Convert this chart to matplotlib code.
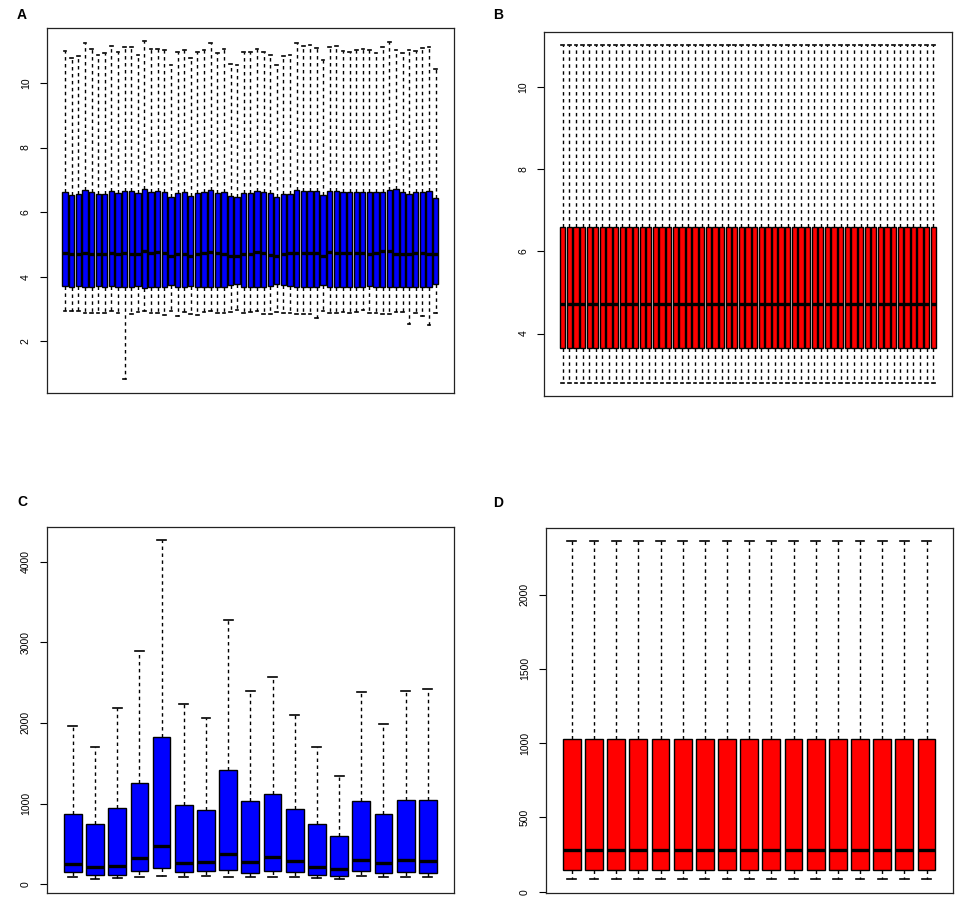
import matplotlib.pyplot as plt

plt.rcParams["font.family"] = ["Liberation Sans", "DejaVu Sans"]

# panel A: 57 arrays, raw expression
a_whishi = [11.0, 10.78, 10.83, 11.23, 11.05, 10.86, 10.92, 11.13, 10.97, 11.12,
            11.1, 10.85, 11.29, 11.05, 11.06, 11.03, 10.55, 10.95, 11.03, 10.78,
            10.95, 11.03, 11.23, 10.93, 11.05, 10.6, 10.55, 10.95, 10.95, 11.06,
            10.97, 10.85, 10.55, 10.83, 10.86, 11.23, 11.13, 11.17, 11.07, 10.72,
            11.1, 11.13, 11.0, 10.97, 11.02, 11.04, 11.02, 10.92, 11.1, 11.25,
            11.02, 10.91, 11.01, 10.98, 11.07, 11.1, 10.44]
a_q3 = [6.62, 6.54, 6.56, 6.67, 6.62, 6.56, 6.56, 6.65, 6.60, 6.65,
        6.65, 6.59, 6.71, 6.63, 6.64, 6.62, 6.48, 6.59, 6.62, 6.50,
        6.59, 6.63, 6.68, 6.59, 6.63, 6.49, 6.48, 6.59, 6.59, 6.65,
        6.61, 6.58, 6.48, 6.57, 6.57, 6.68, 6.66, 6.66, 6.64, 6.52,
        6.64, 6.65, 6.63, 6.62, 6.62, 6.62, 6.62, 6.61, 6.61, 6.69,
        6.71, 6.62, 6.57, 6.61, 6.62, 6.64, 6.43]
a_med = [4.75, 4.69, 4.69, 4.73, 4.71, 4.69, 4.71, 4.73, 4.69, 4.73,
         4.71, 4.69, 4.81, 4.73, 4.76, 4.73, 4.65, 4.71, 4.69, 4.65,
         4.71, 4.73, 4.76, 4.75, 4.71, 4.64, 4.64, 4.71, 4.71, 4.76,
         4.73, 4.67, 4.65, 4.69, 4.73, 4.75, 4.73, 4.75, 4.75, 4.64,
         4.78, 4.73, 4.73, 4.75, 4.75, 4.75, 4.69, 4.73, 4.81, 4.81,
         4.71, 4.69, 4.71, 4.75, 4.73, 4.71, 4.69]
a_q1 = [3.71, 3.69, 3.71, 3.67, 3.69, 3.71, 3.67, 3.71, 3.67, 3.67,
        3.67, 3.71, 3.65, 3.67, 3.67, 3.69, 3.74, 3.69, 3.67, 3.71,
        3.69, 3.69, 3.67, 3.69, 3.67, 3.74, 3.76, 3.67, 3.67, 3.69,
        3.69, 3.71, 3.76, 3.73, 3.71, 3.67, 3.67, 3.69, 3.69, 3.73,
        3.67, 3.67, 3.67, 3.69, 3.67, 3.69, 3.71, 3.69, 3.67, 3.67,
        3.69, 3.69, 3.67, 3.69, 3.67, 3.69, 3.76]
a_whislo = [2.93, 2.93, 2.94, 2.88, 2.88, 2.89, 2.88, 2.93, 2.88, 0.83,
            2.84, 2.91, 2.94, 2.89, 2.89, 2.81, 2.93, 2.78, 2.91, 2.86,
            2.81, 2.91, 2.93, 2.88, 2.89, 2.91, 2.97, 2.89, 2.91, 2.94,
            2.84, 2.86, 2.91, 2.89, 2.89, 2.84, 2.86, 2.84, 2.71, 2.93,
            2.89, 2.89, 2.91, 2.89, 2.91, 2.97, 2.89, 2.89, 2.86, 2.84,
            2.91, 2.91, 2.53, 2.88, 2.78, 2.50, 2.88]

# panel B: 57 arrays after normalisation, all identical
b_count = 57
b_whishi, b_q3, b_med, b_q1, b_whislo = 11.01, 6.58, 4.71, 3.66, 2.81

# panel C: 17 samples, raw counts
c_whishi = [1958, 1701, 2183, 2892, 4266, 2241, 2066, 3278, 2398, 2564,
            2104, 1701, 1344, 2378, 1983, 2398, 2427]
c_q3 = [871, 747, 946, 1253, 1826, 988, 921, 1411, 1037, 1120,
        934, 747, 598, 1037, 871, 1046, 1050]
c_med = [249, 207, 228, 324, 473, 266, 278, 373, 278, 332,
         282, 216, 183, 299, 261, 299, 282]
c_q1 = [145, 112, 116, 166, 199, 154, 158, 174, 137, 158,
        154, 116, 104, 158, 137, 145, 133]
c_whislo = [91, 62, 75, 91, 104, 91, 104, 91, 83, 83,
            83, 71, 62, 100, 83, 83, 83]

# panel D: 17 samples after normalisation, all identical
d_count = 17
d_whishi, d_q3, d_med, d_q1, d_whislo = 2359, 1029, 280, 146, 83


def make_stats(whislo, q1, med, q3, whishi):
    return [dict(whislo=lo, q1=a, med=m, q3=b, whishi=hi)
            for lo, a, m, b, hi in zip(whislo, q1, med, q3, whishi)]


def draw_panel(ax, stats, color, yticks):
    n = len(stats)
    ax.bxp(stats, positions=range(1, n + 1), widths=0.8, showfliers=False,
           patch_artist=True,
           boxprops=dict(facecolor=color, edgecolor="black", linewidth=1.0),
           medianprops=dict(color="black", linewidth=2.4, solid_capstyle="butt"),
           whiskerprops=dict(color="black", linewidth=1.0, linestyle=(0, (2.5, 2.5))),
           capprops=dict(color="black", linewidth=1.2),
           capwidths=0.4)
    pad = 0.04 * n
    ax.set_xlim(0.5 - pad, n + 0.5 + pad)
    lo = min(s["whislo"] for s in stats)
    hi = max(s["whishi"] for s in stats)
    ext = 0.04 * (hi - lo)
    ax.set_ylim(lo - ext, hi + ext)
    ax.set_xticks([])
    ax.set_yticks(yticks)
    ax.set_yticklabels([str(t) for t in yticks], rotation=90, va="center")
    ax.tick_params(axis="y", length=5, width=0.8, pad=6.5, labelsize=7.5,
                   direction="out")
    for sp in ax.spines.values():
        sp.set_linewidth(0.9)
        sp.set_color("#222222")


fig = plt.figure(figsize=(9.57, 8.99), dpi=100)

ax_a = fig.add_axes([0.0488, 0.5632, 0.4256, 0.4060])
ax_b = fig.add_axes([0.5688, 0.5595, 0.4257, 0.4052])
ax_c = fig.add_axes([0.0488, 0.0070, 0.4256, 0.4071])
ax_d = fig.add_axes([0.5702, 0.0067, 0.4253, 0.4063])

draw_panel(ax_a, make_stats(a_whislo, a_q1, a_med, a_q3, a_whishi),
           "#0000FF", [2, 4, 6, 8, 10])
draw_panel(ax_b, make_stats([b_whislo] * b_count, [b_q1] * b_count,
                            [b_med] * b_count, [b_q3] * b_count,
                            [b_whishi] * b_count),
           "#FF0000", [4, 6, 8, 10])
draw_panel(ax_c, make_stats(c_whislo, c_q1, c_med, c_q3, c_whishi),
           "#0000FF", [0, 1000, 2000, 3000, 4000])
draw_panel(ax_d, make_stats([d_whislo] * d_count, [d_q1] * d_count,
                            [d_med] * d_count, [d_q3] * d_count,
                            [d_whishi] * d_count),
           "#FF0000", [0, 500, 1000, 1500, 2000])

W, H = 957, 899
for label, x, y in [("A", 16.7, 19.3), ("B", 492.7, 19.3),
                    ("C", 17.0, 506.0), ("D", 492.7, 506.7)]:
    fig.text(x / W, 1 - y / H, label, fontsize=10, fontweight="bold",
             ha="left", va="baseline")

fig.savefig("out.png", dpi=100)
